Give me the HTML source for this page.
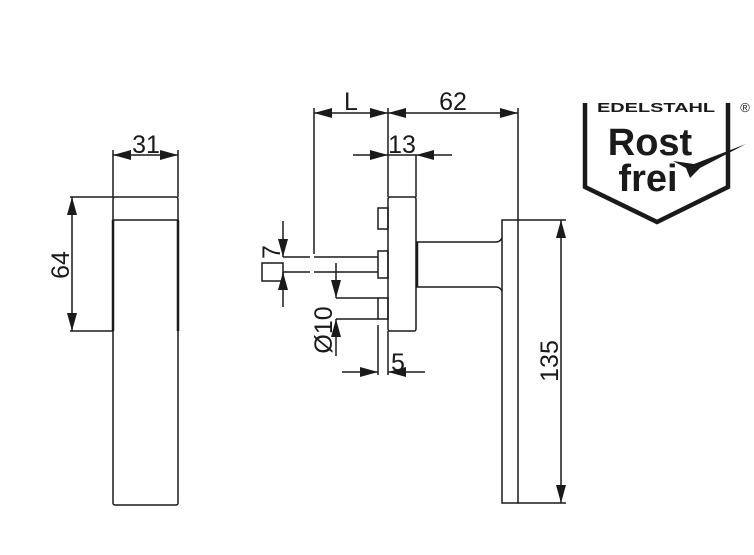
<!DOCTYPE html>
<html><head><meta charset="utf-8"><style>html,body{margin:0;padding:0;background:#fff}svg{display:block}</style></head><body>
<svg width="754" height="555" viewBox="0 0 754 555" xmlns="http://www.w3.org/2000/svg" font-family="Liberation Sans, sans-serif">
<defs>
<marker id="a" viewBox="0 0 18 10" refX="18" refY="5" markerWidth="18" markerHeight="10" markerUnits="userSpaceOnUse" orient="auto-start-reverse"><path d="M0 0L18 5L0 10z" fill="#1a1a1a"/></marker>
</defs>
<g stroke="#1a1a1a" stroke-width="1.5" fill="none">
<rect x="113" y="197" width="65" height="308" rx="2"/>
<line x1="113" y1="220" x2="178" y2="220"/>
<line x1="113" y1="220" x2="113" y2="331" stroke-width="2.5"/>
<line x1="178" y1="220" x2="178" y2="331" stroke-width="2.5"/>
<line x1="113" y1="150" x2="113" y2="197"/>
<line x1="178" y1="150" x2="178" y2="197"/>
<line x1="113" y1="155" x2="178" y2="155" marker-start="url(#a)" marker-end="url(#a)"/>
<line x1="70" y1="197" x2="113" y2="197"/>
<line x1="70" y1="331" x2="113" y2="331"/>
<line x1="72" y1="197" x2="72" y2="331" marker-start="url(#a)" marker-end="url(#a)"/>
<rect x="388" y="197" width="28" height="134" rx="2"/>
<rect x="378" y="208" width="10" height="21"/>
<rect x="378" y="251" width="10" height="27"/>
<rect x="378" y="298" width="10" height="21"/>
<polyline points="314,257 378,257"/>
<polyline points="314,272 378,272"/>
<line x1="283" y1="257" x2="310" y2="257"/>
<line x1="283" y1="272" x2="310" y2="272"/>
<rect x="262" y="263" width="21" height="18"/>
<path d="M416 242 L496 242 Q500 242 502 238 M416 287 L496 287 Q500 287 502 291"/>
<line x1="417" y1="242" x2="417" y2="287" stroke-width="2.5"/>
<rect x="502" y="220" width="16" height="283"/>
<line x1="314" y1="108" x2="314" y2="254"/>
<line x1="388" y1="108" x2="388" y2="197"/>
<line x1="518" y1="108" x2="518" y2="220"/>
<line x1="314" y1="113" x2="388" y2="113" marker-start="url(#a)" marker-end="url(#a)"/>
<line x1="388" y1="113" x2="518" y2="113" marker-start="url(#a)" marker-end="url(#a)"/>
<line x1="416" y1="155" x2="416" y2="197"/>
<line x1="353" y1="155" x2="388" y2="155" marker-end="url(#a)"/>
<line x1="452" y1="155" x2="416" y2="155" marker-end="url(#a)"/>
<line x1="388" y1="155" x2="416" y2="155"/>
<line x1="283" y1="221" x2="283" y2="257" marker-end="url(#a)"/>
<line x1="283" y1="307" x2="283" y2="272" marker-end="url(#a)"/>
<line x1="336" y1="263" x2="336" y2="298" marker-end="url(#a)"/>
<line x1="336" y1="356" x2="336" y2="319" marker-end="url(#a)"/>
<line x1="336" y1="298" x2="378" y2="298"/>
<line x1="336" y1="319" x2="378" y2="319"/>
<line x1="378" y1="325" x2="378" y2="375"/>
<line x1="388" y1="331" x2="388" y2="375"/>
<line x1="342" y1="372" x2="378" y2="372" marker-end="url(#a)"/>
<line x1="425" y1="372" x2="388" y2="372" marker-end="url(#a)"/>
<line x1="518" y1="220" x2="566" y2="220"/>
<line x1="518" y1="503" x2="566" y2="503"/>
<line x1="561" y1="220" x2="561" y2="503" marker-start="url(#a)" marker-end="url(#a)"/>
</g>
<g fill="#1a1a1a" font-size="25">
<text x="146" y="153" text-anchor="middle">31</text>
<text transform="translate(69,265) rotate(-90)" text-anchor="middle">64</text>
<text x="351" y="110" text-anchor="middle">L</text>
<text x="453" y="110" text-anchor="middle">62</text>
<text x="402" y="153" text-anchor="middle">13</text>
<text transform="translate(280,252) rotate(-90)" text-anchor="middle">7</text>
<text transform="translate(332,330) rotate(-90)" text-anchor="middle">Ø10</text>
<text x="398" y="371" text-anchor="middle">5</text>
<text transform="translate(558,361) rotate(-90)" text-anchor="middle">135</text>
</g>
<path d="M585 103 L585 187 L657 222 L728 187 L728 103" fill="none" stroke="#1a1a1a" stroke-width="4.5"/>
<text x="656" y="112" font-size="13" font-weight="bold" text-anchor="middle" fill="#1a1a1a" textLength="118" lengthAdjust="spacingAndGlyphs">EDELSTAHL</text>
<text x="745" y="112" font-size="13" text-anchor="middle" fill="#1a1a1a">®</text>
<text x="650" y="155" font-size="38" font-weight="bold" text-anchor="middle" fill="#1a1a1a">Rost</text>
<text x="648" y="191" font-size="38" font-weight="bold" text-anchor="middle" fill="#1a1a1a">frei</text>
<path d="M673 161 L694 164 L746 144 L700 168 L690 178 L686 168 Z" fill="#1a1a1a"/>
</svg>
</body></html>
